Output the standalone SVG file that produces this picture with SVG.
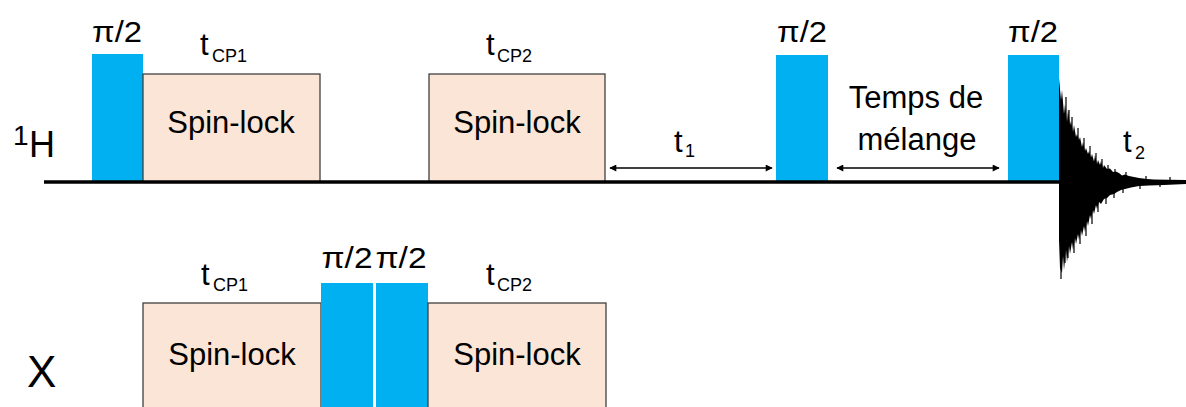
<svg xmlns="http://www.w3.org/2000/svg" width="1186" height="407" viewBox="0 0 1186 407">
<style>
  text { font-family: "Liberation Sans", Arial, sans-serif; fill: #000; }
  .pulse { fill: #00B0F0; }
  .lock { fill: #FBE5D6; stroke: #404040; stroke-width: 1.3; }
  .lbl { font-size: 31px; text-anchor: middle; }
  .pi { font-size: 29px; text-anchor: middle; }
  .t { font-size: 31px; }
  .sub { font-size: 18px; }
  .axis { stroke: #000; stroke-width: 3.3; fill: none; }
  .arr { stroke: #000; stroke-width: 1.5; fill: none; marker-start: url(#ah); marker-end: url(#ah); }
  .spk { stroke: #000; stroke-width: 1.2; }
</style>
<defs>
  <marker id="ah" viewBox="0 0 10 10" refX="9" refY="5" markerWidth="8" markerHeight="7" markerUnits="userSpaceOnUse" orient="auto-start-reverse">
    <path d="M0,0 L10,5 L0,10 Z" fill="#000"/>
  </marker>
</defs>
<rect width="1186" height="407" fill="#fff"/>

<!-- channel labels -->
<g id="label-1H">
  <text x="13" y="145" font-size="28">1</text>
  <text x="29" y="157" font-size="36">H</text>
</g>
<g id="label-X">
  <text x="27" y="387" font-size="44">X</text>
</g>

<!-- 1H channel -->
<g id="h-pulse1">
  <rect class="pulse" x="92" y="54" width="51" height="128"/>
  <text class="pi" x="117" y="42" textLength="50" lengthAdjust="spacingAndGlyphs">π/2</text>
</g>
<g id="h-spinlock1">
  <rect class="lock" x="143" y="74" width="177" height="108"/>
  <text class="lbl" x="231" y="133">Spin-lock</text>
  <text class="t" x="200" y="55">t<tspan class="sub" x="212" y="62">CP1</tspan></text>
</g>
<g id="h-spinlock2">
  <rect class="lock" x="429" y="74" width="176" height="108"/>
  <text class="lbl" x="517" y="133">Spin-lock</text>
  <text class="t" x="486" y="55">t<tspan class="sub" x="497" y="62">CP2</tspan></text>
</g>
<g id="h-pulse2">
  <rect class="pulse" x="776" y="55" width="52" height="127"/>
  <text class="pi" x="802" y="42" textLength="50" lengthAdjust="spacingAndGlyphs">π/2</text>
</g>
<g id="h-pulse3">
  <rect class="pulse" x="1008" y="55" width="51" height="127"/>
  <text class="pi" x="1033" y="42" textLength="50" lengthAdjust="spacingAndGlyphs">π/2</text>
</g>
<g id="h-fid">
  <polygon fill="#000" points="1059,182 1059,78 1061,100 1062,90 1064,114 1065,104 1067,122 1068,109 1070,125 1071,121 1073,132 1074,125 1076,137 1077,134 1079,140 1080,137 1082,147 1083,142 1085,151 1086,148 1088,154 1089,151 1091,157.5 1092,154 1094,161.5 1095,155 1097,164 1098,160 1100,165 1101,161 1103,168 1104,165 1107,169 1110,168.5 1113,172 1116,171.4 1119,173 1122,175.4 1125,174.6 1129,176 1134,177 1139,178 1147,179 1154,179.5 1169,179.7 1186,180 1186,184 1164,185 1149,185.5 1139,186 1131,187.5 1125,189 1121,190 1117,192 1114,194 1110,195 1107,198 1104,199 1101,204 1099,202 1097,209 1096,205 1094,214 1093,210 1091,219 1090,215 1088,226 1087,221 1085,232 1084,226 1082,236 1081,230 1079,240 1078,234 1076,244 1075,238 1073,250 1072,242 1070,254 1069,246 1067,262 1066,250 1064,270 1063,256 1062,273 1060,268 1059,240"/>
  <path class="spk" d="M1066,182V97 M1069,182V110 M1072,182V117 M1078,182V128 M1084,182V138 M1090,182V146 M1096,182V153 M1102,182V159 M1108,182V165 M1115,182V169 M1126,182V172 M1146,182V176 M1170,182V177
    M1061,182V279 M1065,182V263 M1068,182V258 M1074,182V253 M1080,182V244 M1086,182V236 M1092,182V224 M1098,182V212 M1106,182V204 M1114,182V198 M1123,182V193 M1140,182V189 M1160,182V187"/>
  <text class="t" x="1123" y="152">t<tspan class="sub" x="1135" y="159" font-size="20">2</tspan></text>
</g>

<!-- X channel -->
<g id="x-spinlock1">
  <rect class="lock" x="143" y="303" width="178" height="120"/>
  <text class="lbl" x="232" y="365">Spin-lock</text>
  <text class="t" x="201" y="285">t<tspan class="sub" x="213" y="291">CP1</tspan></text>
</g>
<g id="x-pulse1">
  <rect class="pulse" x="321" y="283" width="52" height="140"/>
  <text class="pi" x="347" y="268" textLength="51" lengthAdjust="spacingAndGlyphs">π/2</text>
</g>
<g id="x-pulse2">
  <rect class="pulse" x="376" y="283" width="52" height="140"/>
  <text class="pi" x="401" y="268" textLength="51" lengthAdjust="spacingAndGlyphs">π/2</text>
</g>
<g id="x-spinlock2">
  <rect class="lock" x="428" y="303" width="178" height="120"/>
  <text class="lbl" x="517" y="365">Spin-lock</text>
  <text class="t" x="486" y="285">t<tspan class="sub" x="497" y="291">CP2</tspan></text>
</g>

<!-- connectors -->
<g id="connectors">
  <line class="axis" x1="44" y1="182" x2="1186" y2="182"/>
  <line class="arr" x1="610" y1="168" x2="772" y2="168"/>
  <line class="arr" x1="837" y1="168" x2="999" y2="168"/>
  <text class="t" x="674" y="152">t<tspan class="sub" x="685" y="157" font-size="20">1</tspan></text>
  <text class="lbl" x="916" y="108">Temps de</text>
  <text class="lbl" x="917" y="150">mélange</text>
</g>
</svg>
